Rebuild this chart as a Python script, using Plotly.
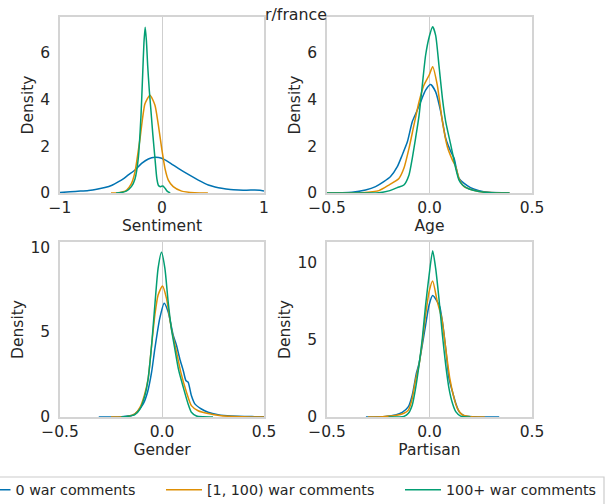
import plotly.graph_objects as go
from plotly.subplots import make_subplots

# Series labels and colours (seaborn "colorblind" palette)
series_names = ["0 war comments", "[1, 100) war comments", "100+ war comments"]
series_colors = ["#0173B2", "#DE8F05", "#029E73"]

panel_titles = ["Sentiment", "Age", "Gender", "Partisan"]

# ---- Sentiment densities ----
sent_x_0 = [-1.0, -0.9, -0.8, -0.72, -0.64, -0.56, -0.49, -0.43, -0.38, -0.33, -0.265, -0.2, -0.134,
            -0.07, -0.003, 0.062, 0.16, 0.258, 0.356, 0.454, 0.52, 0.585, 0.67, 0.75, 0.83, 0.91, 0.96, 1.0]
sent_y_0 = [0.02, 0.05, 0.08, 0.11, 0.16, 0.23, 0.33, 0.47, 0.6, 0.77, 0.98, 1.26, 1.45,
            1.52, 1.48, 1.33, 1.05, 0.79, 0.55, 0.34, 0.26, 0.2, 0.15, 0.13, 0.12, 0.13, 0.12, 0.09]
sent_x_1 = [-0.5, -0.43, -0.38, -0.346, -0.3, -0.265, -0.216, -0.167, -0.118, -0.069, -0.036, -0.003,
            0.029, 0.062, 0.11, 0.193, 0.32, 0.45]
sent_y_1 = [0.0, 0.01, 0.05, 0.13, 0.4, 0.9, 2.3, 3.8, 4.17, 3.74, 2.9, 1.9,
            1.05, 0.55, 0.27, 0.08, 0.01, 0.0]
sent_x_2 = [-0.45, -0.4, -0.35, -0.3, -0.265, -0.232, -0.206, -0.19, -0.177, -0.165, -0.153, -0.14,
            -0.125, -0.11, -0.09, -0.069, -0.05, -0.035, -0.015, 0.01, 0.03, 0.05, 0.08]
sent_y_2 = [0.0, 0.02, 0.08, 0.27, 0.6, 1.5, 3.3, 5.0, 6.4, 7.06, 6.5, 5.4,
            4.4, 3.6, 2.5, 1.48, 0.6, 0.32, 0.27, 0.3, 0.2, 0.08, 0.0]

# ---- Age densities ----
age_x_0 = [-0.5, -0.43, -0.378, -0.312, -0.263, -0.223, -0.19, -0.157, -0.133, -0.108, -0.084, -0.063,
           -0.043, -0.019, 0.0057, 0.03, 0.055, 0.079, 0.104, 0.12, 0.132, 0.144, 0.169, 0.2, 0.242,
           0.29, 0.39]
age_y_0 = [0.0, 0.01, 0.03, 0.13, 0.27, 0.48, 0.7, 1.12, 1.62, 2.18, 3.04, 3.46,
           3.89, 4.38, 4.62, 4.31, 3.46, 2.33, 1.76, 1.48, 1.0, 0.62, 0.41, 0.23, 0.1,
           0.03, 0.0]
age_x_1 = [-0.5, -0.4, -0.33, -0.247, -0.198, -0.149, -0.125, -0.1, -0.076, -0.051, -0.027, -0.002,
           0.0155, 0.038, 0.063, 0.087, 0.112, 0.128, 0.144, 0.169, 0.21, 0.259, 0.32, 0.39]
age_y_1 = [0.0, 0.0, 0.01, 0.1, 0.34, 0.62, 1.05, 1.9, 2.89, 3.89, 4.6, 5.02,
           5.38, 4.6, 3.04, 1.97, 1.4, 1.12, 0.62, 0.27, 0.13, 0.04, 0.01, 0.0]
age_x_2 = [-0.5, -0.3, -0.247, -0.198, -0.157, -0.125, -0.1, -0.084, -0.068, -0.051, -0.035, -0.019,
           0.0, 0.0155, 0.03, 0.046, 0.063, 0.079, 0.104, 0.128, 0.144, 0.161, 0.193, 0.242, 0.3, 0.39]
age_y_2 = [0.0, 0.0, 0.01, 0.09, 0.23, 0.34, 0.77, 1.48, 2.33, 3.3, 4.6, 5.87,
           6.7, 7.08, 6.72, 5.45, 4.03, 3.04, 2.04, 1.05, 0.55, 0.34, 0.17, 0.06, 0.01, 0.0]

# ---- Gender densities ----
gen_x_0 = [-0.31, -0.25, -0.198, -0.141, -0.117, -0.092, -0.071, -0.051, -0.035, -0.011, 0.0106,
           0.03, 0.055, 0.071, 0.087, 0.104, 0.117, 0.128, 0.144, 0.161, 0.193, 0.226, 0.275,
           0.34, 0.454, 0.5]
gen_y_0 = [0.0, 0.0, 0.02, 0.12, 0.37, 0.77, 1.46, 2.64, 4.02, 5.8, 6.69,
           6.19, 4.81, 4.22, 3.43, 2.74, 2.15, 2.05, 1.26, 0.77, 0.47, 0.28, 0.14,
           0.06, 0.02, 0.01]
gen_x_1 = [-0.25, -0.174, -0.133, -0.108, -0.087, -0.068, -0.051, -0.035, -0.019, 0.0024, 0.022,
           0.046, 0.071, 0.092, 0.12, 0.144, 0.177, 0.226, 0.29, 0.39, 0.5]
gen_y_1 = [0.0, 0.02, 0.18, 0.57, 1.26, 2.25, 4.22, 6.0, 7.18, 7.71, 6.98,
           5.2, 3.83, 2.64, 1.46, 0.67, 0.37, 0.2, 0.08, 0.02, 0.0]
gen_x_2 = [-0.2, -0.166, -0.133, -0.108, -0.084, -0.068, -0.051, -0.035, -0.019, -0.0025, 0.014,
           0.03, 0.046, 0.063, 0.082, 0.104, 0.128, 0.144, 0.169, 0.2, 0.25]
gen_y_2 = [0.0, 0.04, 0.14, 0.47, 1.26, 2.25, 4.22, 6.59, 8.76, 9.7, 8.76,
           6.8, 5.2, 4.0, 2.74, 1.76, 0.77, 0.28, 0.06, 0.01, 0.0]

# ---- Partisan densities ----
par_x_0 = [-0.31, -0.215, -0.166, -0.133, -0.103, -0.084, -0.064, -0.051, -0.035, -0.019, -0.002,
           0.0155, 0.038, 0.05, 0.063, 0.079, 0.095, 0.112, 0.128, 0.144, 0.169, 0.21, 0.34]
par_y_0 = [0.0, 0.04, 0.13, 0.3, 0.67, 1.43, 2.84, 3.48, 4.68, 5.97, 7.27,
           7.88, 7.49, 7.16, 6.19, 4.46, 2.51, 1.64, 0.89, 0.35, 0.09, 0.02, 0.0]
par_x_1 = [-0.3, -0.23, -0.166, -0.125, -0.103, -0.084, -0.068, -0.051, -0.035, -0.019, -0.002,
           0.0155, 0.038, 0.06, 0.079, 0.099, 0.12, 0.136, 0.161, 0.2, 0.27]
par_y_1 = [0.0, 0.02, 0.09, 0.24, 0.45, 1.21, 2.4, 3.38, 4.89, 6.62, 8.14,
           8.83, 7.49, 6.4, 4.46, 2.51, 1.21, 0.56, 0.13, 0.02, 0.0]
par_x_2 = [-0.2, -0.125, -0.103, -0.084, -0.068, -0.051, -0.035, -0.019, -0.002, 0.0155, 0.03,
           0.046, 0.063, 0.079, 0.095, 0.112, 0.128, 0.152, 0.2]
par_y_2 = [0.0, 0.04, 0.24, 0.78, 1.86, 3.38, 5.1, 7.27, 9.2, 10.8, 9.65,
           7.7, 5.32, 3.38, 1.86, 0.89, 0.35, 0.06, 0.0]

panels = [
    [(sent_x_0, sent_y_0), (sent_x_1, sent_y_1), (sent_x_2, sent_y_2)],
    [(age_x_0, age_y_0), (age_x_1, age_y_1), (age_x_2, age_y_2)],
    [(gen_x_0, gen_y_0), (gen_x_1, gen_y_1), (gen_x_2, gen_y_2)],
    [(par_x_0, par_y_0), (par_x_1, par_y_1), (par_x_2, par_y_2)],
]

x_ranges = [[-1, 1], [-0.5, 0.5], [-0.5, 0.5], [-0.5, 0.5]]
x_ticks = [[-1, 0, 1], [-0.5, 0.0, 0.5], [-0.5, 0.0, 0.5], [-0.5, 0.0, 0.5]]
x_formats = ["d", ".1f", ".1f", ".1f"]
y_ranges = [[0, 7.5], [0, 7.5], [0, 10.3], [0, 11.36]]
y_ticks = [[0, 2, 4, 6], [0, 2, 4, 6], [0, 5, 10], [0, 5, 10]]

W, H = 608, 504
MB = 30                 # bottom margin that holds the legend
PH = H - MB             # plot-area height
# panel frames in pixels: (left, right, top, bottom)
frames = [(60, 264, 17, 193), (327, 532, 17, 193), (60, 264, 242, 417), (327, 532, 242, 417)]
# legend row: one legend per series, laid out side by side inside a shared box
legend_ids = ["legend", "legend2", "legend3"]
legend_text_px = [17.5, 209, 448]
LEG_TOP = 474
LEG_ITEMWIDTH = 36

FONT = "DejaVu Sans"
TXT = "#262626"
FRAME = "#d4d4d4"

fig = make_subplots(rows=2, cols=2)

for p, series in enumerate(panels):
    row, col = p // 2 + 1, p % 2 + 1
    for s, (xs, ys) in enumerate(series):
        fig.add_trace(
            go.Scatter(
                x=xs, y=ys, mode="lines",
                line=dict(color=series_colors[s], width=1.5, shape="spline", smoothing=0.6),
                name=series_names[s], legendgroup=series_names[s],
                legend=legend_ids[s], showlegend=(p == 0),
            ),
            row=row, col=col,
        )

for p in range(4):
    l, r, t, b = frames[p]
    sfx = "" if p == 0 else str(p + 1)
    fig.layout["xaxis" + sfx].update(
        domain=[l / W, r / W], range=x_ranges[p], tickvals=x_ticks[p], tickformat=x_formats[p],
        automargin=False,
        showgrid=False, zeroline=True, zerolinecolor="#cfcfcf", zerolinewidth=1.2,
        showline=True, mirror=True, linecolor=FRAME, linewidth=1.5,
        ticks="",
        tickfont=dict(family=FONT, size=15.5, color=TXT),
        title=dict(text=panel_titles[p], font=dict(family=FONT, size=15.5, color=TXT), standoff=2),
    )
    fig.layout["yaxis" + sfx].update(
        domain=[(PH - b) / PH, (PH - t) / PH], range=y_ranges[p], tickvals=y_ticks[p],
        automargin=False,
        showgrid=False, zeroline=False,
        showline=True, mirror=True, linecolor=FRAME, linewidth=1.5,
        ticks="outside", ticklen=5, tickcolor="rgba(0,0,0,0)",
        tickfont=dict(family=FONT, size=15.5, color=TXT),
        title=dict(text="Density", font=dict(family=FONT, size=15.5, color=TXT), standoff=3),
    )

legend_layout = {}
for lid, tx in zip(legend_ids, legend_text_px):
    legend_layout[lid] = dict(
        orientation="h", x=(tx - (LEG_ITEMWIDTH + 12)) / W, xanchor="left",
        y=(PH - LEG_TOP) / PH, yanchor="top",
        bgcolor="rgba(0,0,0,0)", borderwidth=0, itemwidth=LEG_ITEMWIDTH,
        font=dict(family=FONT, size=14.3, color=TXT),
    )

fig.update_layout(
    width=W, height=H,
    margin=dict(l=0, r=0, t=0, b=MB, autoexpand=False),
    paper_bgcolor="white", plot_bgcolor="white",
    font=dict(family=FONT, color=TXT),
    title=dict(text="r/france", x=296 / W, xanchor="center", y=1 - 14 / H, yanchor="middle",
               font=dict(family=FONT, size=15.8, color=TXT)),
    **legend_layout,
)

# frame around the legend row
fig.add_shape(
    type="rect", xref="paper", yref="paper",
    x0=-3 / W, x1=604 / W, y0=(PH - 507) / PH, y1=(PH - 477) / PH,
    line=dict(color="#cccccc", width=1.2), fillcolor="white", layer="below",
)

fig.write_html("out.html")
